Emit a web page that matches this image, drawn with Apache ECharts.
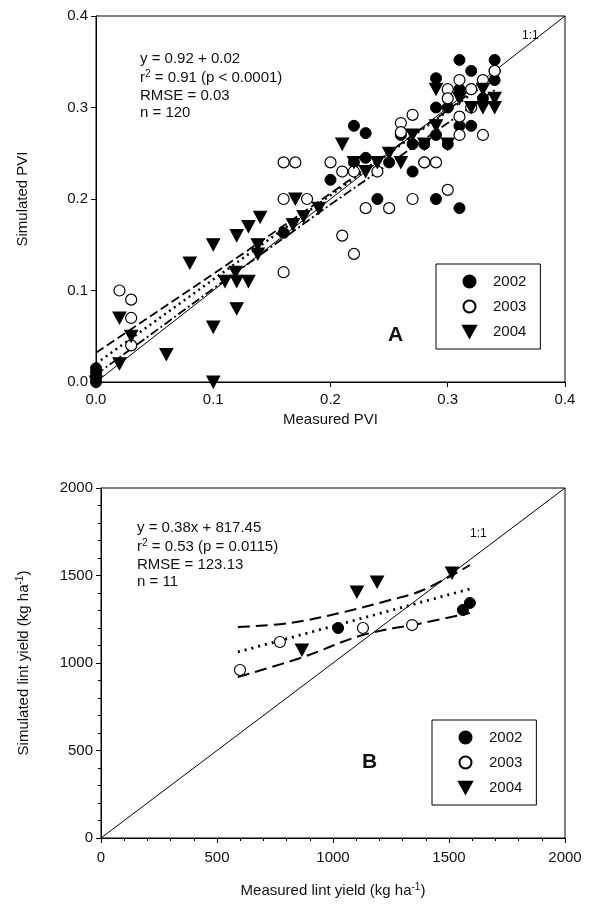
<!DOCTYPE html>
<html><head><meta charset="utf-8">
<script src="https://cdn.jsdelivr.net/npm/echarts@6/dist/echarts.min.js"></script>
<style>html,body{margin:0;padding:0;background:#fff}#c{width:591px;height:914px}</style>
</head><body><div id="c"></div>
<script>
// ---------- Panel A data (PVI) ----------
const pviTicks = [0, 0.1, 0.2, 0.3, 0.4];
const pvi2002 = [[0,0.0],[0,0.005],[0,0.01],[0,0.015],[0.16,0.163],[0.2,0.221],[0.22,0.28],[0.23,0.272],[0.22,0.24],[0.24,0.2],[0.23,0.245],[0.27,0.23],[0.27,0.26],[0.28,0.26],[0.29,0.27],[0.29,0.3],[0.29,0.332],[0.3,0.3],[0.3,0.26],[0.31,0.352],[0.31,0.32],[0.32,0.32],[0.32,0.34],[0.33,0.31],[0.34,0.352],[0.34,0.34],[0.34,0.33],[0.31,0.28],[0.32,0.28],[0.29,0.2],[0.31,0.19],[0.26,0.27],[0.25,0.24],[0.28,0.24]];
const pvi2003 = [[0.02,0.1],[0.03,0.09],[0.03,0.07],[0.03,0.04],[0.16,0.24],[0.17,0.24],[0.2,0.24],[0.21,0.23],[0.16,0.2],[0.18,0.2],[0.16,0.12],[0.21,0.16],[0.22,0.14],[0.23,0.19],[0.25,0.19],[0.26,0.283],[0.26,0.273],[0.27,0.292],[0.28,0.24],[0.27,0.2],[0.3,0.21],[0.3,0.32],[0.3,0.31],[0.31,0.33],[0.31,0.29],[0.31,0.27],[0.32,0.3],[0.32,0.32],[0.33,0.27],[0.33,0.33],[0.34,0.34],[0.29,0.24],[0.22,0.23],[0.24,0.23]];
const pvi2004 = [[0,0.0],[0.02,0.07],[0.03,0.05],[0.02,0.02],[0.06,0.03],[0.08,0.13],[0.1,0.15],[0.1,0.06],[0.1,0.0],[0.11,0.11],[0.12,0.11],[0.13,0.11],[0.12,0.08],[0.119,0.12],[0.12,0.16],[0.13,0.17],[0.14,0.18],[0.138,0.15],[0.138,0.14],[0.17,0.2],[0.168,0.172],[0.177,0.181],[0.19,0.19],[0.21,0.26],[0.22,0.24],[0.23,0.23],[0.24,0.24],[0.25,0.25],[0.26,0.24],[0.27,0.27],[0.28,0.26],[0.29,0.32],[0.29,0.28],[0.3,0.26],[0.31,0.31],[0.32,0.3],[0.33,0.3],[0.34,0.3],[0.34,0.31],[0.33,0.32]];
const pviFit = [[0,0.02],[0.34,0.333]];
const pviUpper = [[0,0.032],[0.1,0.118],[0.2,0.206],[0.3,0.297],[0.34,0.337]];
const pviLower = [[0,0.008],[0.1,0.102],[0.2,0.194],[0.3,0.283],[0.34,0.319]];
const pviOneToOne = [[0,0],[0.4,0.4]];

// ---------- Panel B data (lint yield) ----------
const yieldTicks = [0, 500, 1000, 1500, 2000];
const lint2002 = [[1022,1200],[1560,1303],[1590,1343]];
const lint2003 = [[599,960],[771,1120],[1129,1200],[1341,1217]];
const lint2004 = [[866,1074],[1103,1406],[1190,1463],[1513,1514]];
const lintFit = [[590,1063],[1590,1423]];
const lintUpper = [[590,1206],[815,1229],[1030,1286],[1246,1360],[1388,1417],[1590,1560]];
const lintLower = [[590,920],[871,1034],[1129,1160],[1388,1229],[1590,1286]];
const lintOneToOne = [[0,0],[2000,2000]];

const years = ['2002','2003','2004'];
const triPath = 'path://M0,0 L10,0 L5,9 Z';
const FONT = '"Liberation Sans", Arial, sans-serif';

const chart = echarts.init(document.getElementById('c'), null, {renderer:'canvas'});

function axisCommon(extra){
  return Object.assign({
    type:'value',
    axisLine:{show:true, onZero:false, lineStyle:{color:'#000', width:1}},
    axisTick:{show:true, length:5, lineStyle:{color:'#000'}},
    splitLine:{show:false},
    axisLabel:{color:'#111', fontSize:15, fontFamily:FONT},
    nameTextStyle:{color:'#111', fontSize:15, fontFamily:FONT}
  }, extra);
}
function scatterSeries(name, data, xi, kind){
  const s = {name, type:'scatter', xAxisIndex:xi, yAxisIndex:xi, data, z:5, symbolSize:11,
    itemStyle:{color:'#000', borderColor:'#000', borderWidth:1, opacity:1}};
  if(kind==='open'){ s.itemStyle = {color:'#fff', borderColor:'#000', borderWidth:1.2, opacity:1}; }
  if(kind==='tri'){ s.symbol = triPath; s.symbolSize = [13,12]; }
  return s;
}
function lineSeries(data, xi, type, width){
  return {type:'line', xAxisIndex:xi, yAxisIndex:xi, data, showSymbol:false, symbol:'none', z:4,
    silent:true, lineStyle:{color:'#000', width:width||1.8, type:type}};
}
const annA = {a:{font:'15px '+FONT, fill:'#111'}, s:{font:'10px '+FONT, fill:'#111', padding:[0,0,8,0]}};

const option = {
  backgroundColor:'#fff',
  animation:false,
  grid:[
    {left:96, top:16, width:469, height:366, show:true, borderColor:'#000', borderWidth:1, backgroundColor:'transparent'},
    {left:101, top:488, width:464, height:350, show:true, borderColor:'#000', borderWidth:1, backgroundColor:'transparent'}
  ],
  xAxis:[
    axisCommon({gridIndex:0, min:pviTicks[0], max:pviTicks[pviTicks.length-1], interval:0.1,
      axisLabel:{color:'#111', fontSize:15, fontFamily:FONT, margin:10, formatter:v=>v.toFixed(1)},
      name:'Measured PVI', nameLocation:'middle', nameGap:30}),
    axisCommon({gridIndex:1, min:yieldTicks[0], max:yieldTicks[yieldTicks.length-1], interval:500,
      minorTick:{show:true, splitNumber:5, length:3, lineStyle:{color:'#000'}},
      axisLabel:{color:'#111', fontSize:15, fontFamily:FONT, margin:12, formatter:v=>String(v)},
      name:'{a|Measured lint yield (kg ha}{s|-1}{a|)}', nameLocation:'middle', nameGap:44,
      nameTextStyle:{rich:{a:{fontSize:15, fontFamily:FONT, color:'#111'}, s:{fontSize:10, fontFamily:FONT, color:'#111', verticalAlign:'top', padding:[0,0,8,0]}}}})
  ],
  yAxis:[
    axisCommon({gridIndex:0, min:pviTicks[0], max:pviTicks[pviTicks.length-1], interval:0.1,
      axisLabel:{color:'#111', fontSize:15, fontFamily:FONT, margin:8, formatter:v=>v.toFixed(1)},
      name:'Simulated PVI', nameLocation:'middle', nameGap:66}),
    axisCommon({gridIndex:1, min:yieldTicks[0], max:yieldTicks[yieldTicks.length-1], interval:500,
      minorTick:{show:true, splitNumber:5, length:3, lineStyle:{color:'#000'}},
      axisLabel:{color:'#111', fontSize:15, fontFamily:FONT, margin:8, formatter:v=>String(v)},
      name:'{a|Simulated lint yield (kg ha}{s|-1}{a|)}', nameLocation:'middle', nameGap:68,
      nameTextStyle:{rich:{a:{fontSize:15, fontFamily:FONT, color:'#111'}, s:{fontSize:10, fontFamily:FONT, color:'#111', padding:[0,0,8,0]}}}})
  ],
  legend:[
    {left:436, top:264, orient:'vertical', itemWidth:13, itemHeight:12, itemGap:10,
     padding:[10,14,10,26], borderColor:'#000', borderWidth:1, backgroundColor:'#fff',
     textStyle:{fontSize:15, fontFamily:FONT, color:'#111', padding:[0,0,0,12]},
     data:[{name:'2002', icon:'circle'},{name:'2003', icon:'circle'},{name:'2004', icon:triPath}]},
    {left:432, top:720, orient:'vertical', itemWidth:13, itemHeight:12, itemGap:10,
     padding:[10,14,10,26], borderColor:'#000', borderWidth:1, backgroundColor:'#fff',
     textStyle:{fontSize:15, fontFamily:FONT, color:'#111', padding:[0,0,0,12]},
     data:[{name:'2002', icon:'circle'},{name:'2003', icon:'circle'},{name:'2004', icon:triPath}]}
  ],
  graphic:[
    {type:'text', left:140, top:51, style:{text:'y = 0.92 + 0.02', font:'15px '+FONT, fill:'#111'}},
    {type:'text', left:140, top:69, style:{text:'{a|r}{s|2}{a| = 0.91 (p < 0.0001)}', rich:annA}},
    {type:'text', left:140, top:88, style:{text:'RMSE = 0.03', font:'15px '+FONT, fill:'#111'}},
    {type:'text', left:140, top:105, style:{text:'n = 120', font:'15px '+FONT, fill:'#111'}},
    {type:'text', left:522, top:30, style:{text:'1:1', font:'12px '+FONT, fill:'#111'}},
    {type:'text', left:388, top:325, style:{text:'A', font:'bold 21px '+FONT, fill:'#111'}},
    {type:'text', left:137, top:520, style:{text:'y = 0.38x + 817.45', font:'15px '+FONT, fill:'#111'}},
    {type:'text', left:137, top:538, style:{text:'{a|r}{s|2}{a| = 0.53 (p = 0.0115)}', rich:annA}},
    {type:'text', left:137, top:557, style:{text:'RMSE = 123.13', font:'15px '+FONT, fill:'#111'}},
    {type:'text', left:137, top:574, style:{text:'n = 11', font:'15px '+FONT, fill:'#111'}},
    {type:'text', left:470, top:528, style:{text:'1:1', font:'12px '+FONT, fill:'#111'}},
    {type:'text', left:362, top:752, style:{text:'B', font:'bold 21px '+FONT, fill:'#111'}}
  ],
  series:[
    lineSeries(pviOneToOne, 0, 'solid', 1),
    lineSeries(pviUpper, 0, [9,4], 1.8),
    lineSeries(pviLower, 0, [9,3,2,3], 1.8),
    lineSeries(pviFit, 0, [2,4], 2.5),
    scatterSeries(years[0], pvi2002, 0, 'filled'),
    scatterSeries(years[1], pvi2003, 0, 'open'),
    scatterSeries(years[2], pvi2004, 0, 'tri'),
    lineSeries(lintOneToOne, 1, 'solid', 1),
    Object.assign(lineSeries(lintUpper, 1, [12,6], 2), {smooth:0.4}),
    Object.assign(lineSeries(lintLower, 1, [12,6], 2), {smooth:0.4}),
    lineSeries(lintFit, 1, [2,5], 2.8),
    scatterSeries(years[0], lint2002, 1, 'filled'),
    scatterSeries(years[1], lint2003, 1, 'open'),
    scatterSeries(years[2], lint2004, 1, 'tri')
  ]
};
chart.setOption(option);
</script>
</body></html>
